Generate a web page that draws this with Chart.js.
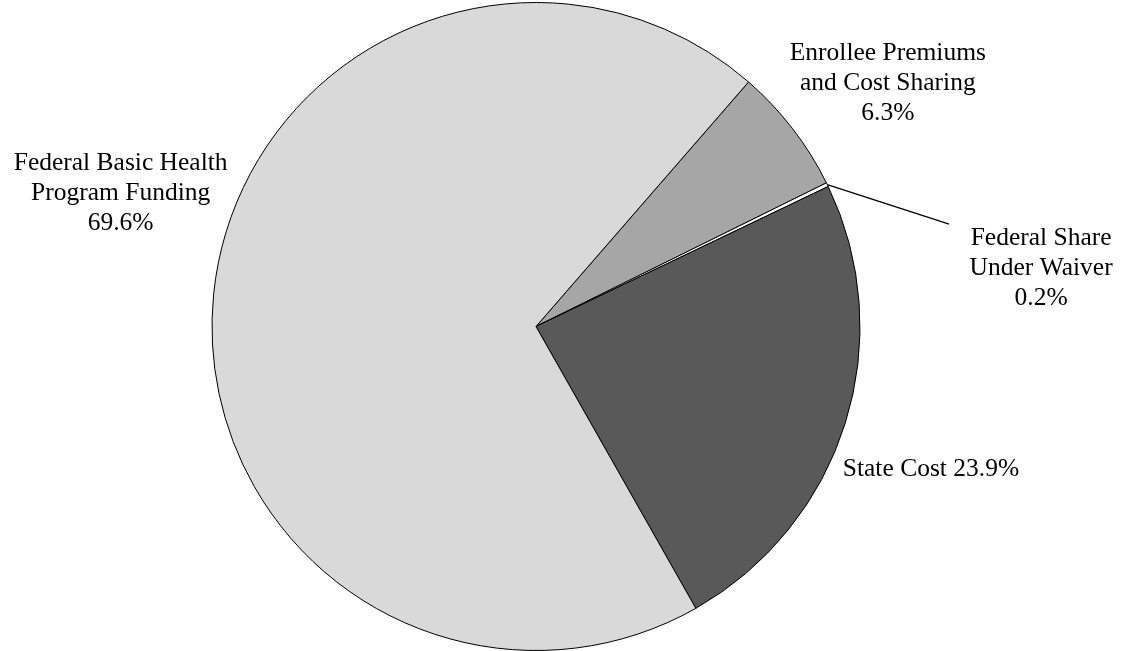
<!DOCTYPE html>
<html>
<head>
<meta charset="utf-8">
<script src="https://cdn.jsdelivr.net/npm/chart.js@4/dist/chart.umd.min.js"></script>
<style>
  html, body { margin: 0; padding: 0; background: #fff; }
  #wrap { width: 1122px; height: 651px; position: relative; }
</style>
</head>
<body>
<div id="wrap"><canvas id="pieChart"></canvas></div>
<script>
const labels = ['Enrollee Premiums and Cost Sharing', 'Federal Share Under Waiver', 'State Cost', 'Federal Basic Health Program Funding'];
const values = [6.3, 0.2, 23.9, 69.6];
const colors = ['#a6a6a6', '#ffffff', '#595959', '#d9d9d9'];

// text lines for each slice label
const labelLines = [
    ['Enrollee Premiums', 'and Cost Sharing', '6.3%'],
    ['Federal Share', 'Under Waiver', '0.2%'],
    ['State Cost 23.9%'],
    ['Federal Basic Health', 'Program Funding', '69.6%']
];

// label centre, relative to pie centre in units of radius
const labelAnchor = [
    { dx: 1.086, dy: -0.750 },
    { dx: 1.559, dy: -0.180 },
    { dx: 1.219, dy: 0.442 },
    { dx: -1.282, dy: -0.411 }
];

const sliceLabels = {
    id: 'sliceLabels',
    afterDraw(chart) {
        const ctx = chart.ctx;
        const arcs = chart.getDatasetMeta(0).data;
        ctx.save();
        ctx.font = '25.5px "Liberation Serif", "Times New Roman", serif';
        ctx.fillStyle = '#000';
        ctx.textAlign = 'center';
        ctx.textBaseline = 'middle';
        arcs.forEach((arc, i) => {
            const r = arc.outerRadius;
            const cx = arc.x + labelAnchor[i].dx * r;
            const cy = arc.y + labelAnchor[i].dy * r;
            const lines = labelLines[i];
            const lh = 30;
            lines.forEach((t, j) => {
                ctx.fillText(t, cx, cy + (j - (lines.length - 1) / 2) * lh);
            });
            // leader line for the tiny slice
            if (i === 1) {
                const mid = (arc.startAngle + arc.endAngle) / 2;
                ctx.beginPath();
                ctx.strokeStyle = '#000';
                ctx.lineWidth = 1.2;
                ctx.moveTo(arc.x + Math.cos(mid) * r, arc.y + Math.sin(mid) * r);
                ctx.lineTo(cx - 92, cy - 44);
                ctx.stroke();
            }
        });
        ctx.restore();
    }
};

new Chart(document.getElementById('pieChart'), {
    type: 'pie',
    data: {
        labels: labels,
        datasets: [{
            data: values,
            backgroundColor: colors,
            borderColor: '#000',
            borderWidth: 1,
            borderAlign: 'center'
        }]
    },
    options: {
        responsive: true,
        maintainAspectRatio: false,
        animation: false,
        rotation: 41,
        layout: { padding: { top: 2, right: 50, bottom: 0, left: 0 } },
        plugins: {
            legend: { display: false },
            tooltip: { enabled: false }
        }
    },
    plugins: [sliceLabels]
});
</script>
</body>
</html>
